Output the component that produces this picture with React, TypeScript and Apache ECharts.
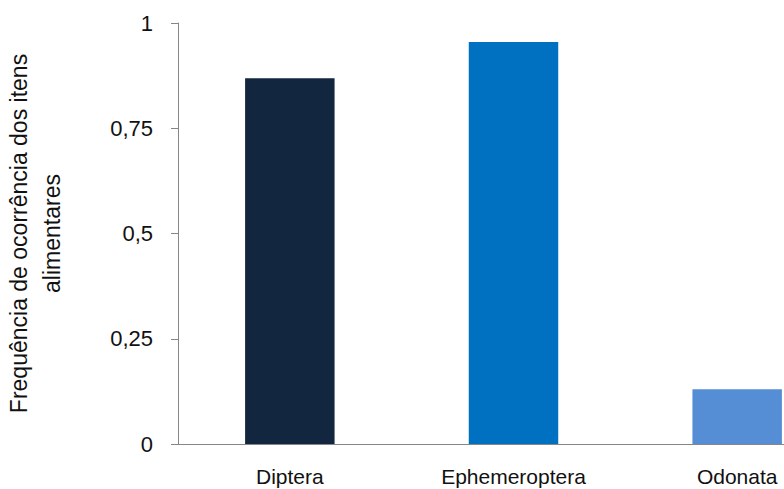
import React, { useEffect, useRef } from "react";
import * as echarts from "echarts";

const categories = ["Diptera", "Ephemeroptera", "Odonata"];
const values = [0.869, 0.955, 0.13];
const barColors = ["#13263F", "#0070C0", "#558ED5"];
const yTicks = [0, 0.25, 0.5, 0.75, 1];
const yTickLabels = ["0", "0,25", "0,5", "0,75", "1"];
const yTitle = "Frequência de ocorrência dos itens\nalimentares";

export default function App() {
  const ref = useRef<HTMLDivElement>(null);
  useEffect(() => {
    if (!ref.current) return;
    const chart = echarts.init(ref.current, null, { renderer: "svg" });
    const font = "Liberation Sans, Arial, sans-serif";
    chart.setOption({
      animation: false,
      backgroundColor: "#ffffff",
      grid: {
        left: 178,
        top: 23,
        width: 671,
        height: 421,
        containLabel: false,
        outerBoundsMode: "none",
      },
      xAxis: {
        type: "category",
        data: categories,
        axisLine: { show: true, lineStyle: { color: "#868686", width: 1 } },
        axisTick: { show: false },
        axisLabel: {
          color: "#111",
          fontFamily: font,
          fontSize: 21,
          margin: 22,
        },
      },
      yAxis: {
        type: "value",
        min: 0,
        max: 1,
        interval: 0.25,
        name: yTitle,
        nameLocation: "middle",
        nameRotate: 90,
        nameGap: 110,
        nameTextStyle: {
          color: "#111",
          fontFamily: font,
          fontSize: 23,
          lineHeight: 33,
          align: "center",
        },
        splitLine: { show: false },
        axisLine: { show: true, lineStyle: { color: "#868686", width: 1 } },
        axisTick: { show: true, inside: false, length: 7, lineStyle: { color: "#868686" } },
        axisLabel: {
          color: "#111",
          fontFamily: font,
          fontSize: 22,
          margin: 25,
          formatter: (v: number) => {
            const i = yTicks.findIndex((t) => Math.abs(t - v) < 1e-9);
            return i >= 0 ? yTickLabels[i] : "";
          },
        },
      },
      series: [
        {
          type: "bar",
          barWidth: "40%",
          data: values.map((v, i) => ({ value: v, itemStyle: { color: barColors[i] } })),
        },
      ],
    });
    return () => chart.dispose();
  }, []);
  return (
    <div style={{ position: "fixed", left: 0, top: 0, width: 784, height: 489, overflow: "hidden", background: "#fff" }}>
      <div ref={ref} style={{ width: 860, height: 489 }} />
    </div>
  );
}
